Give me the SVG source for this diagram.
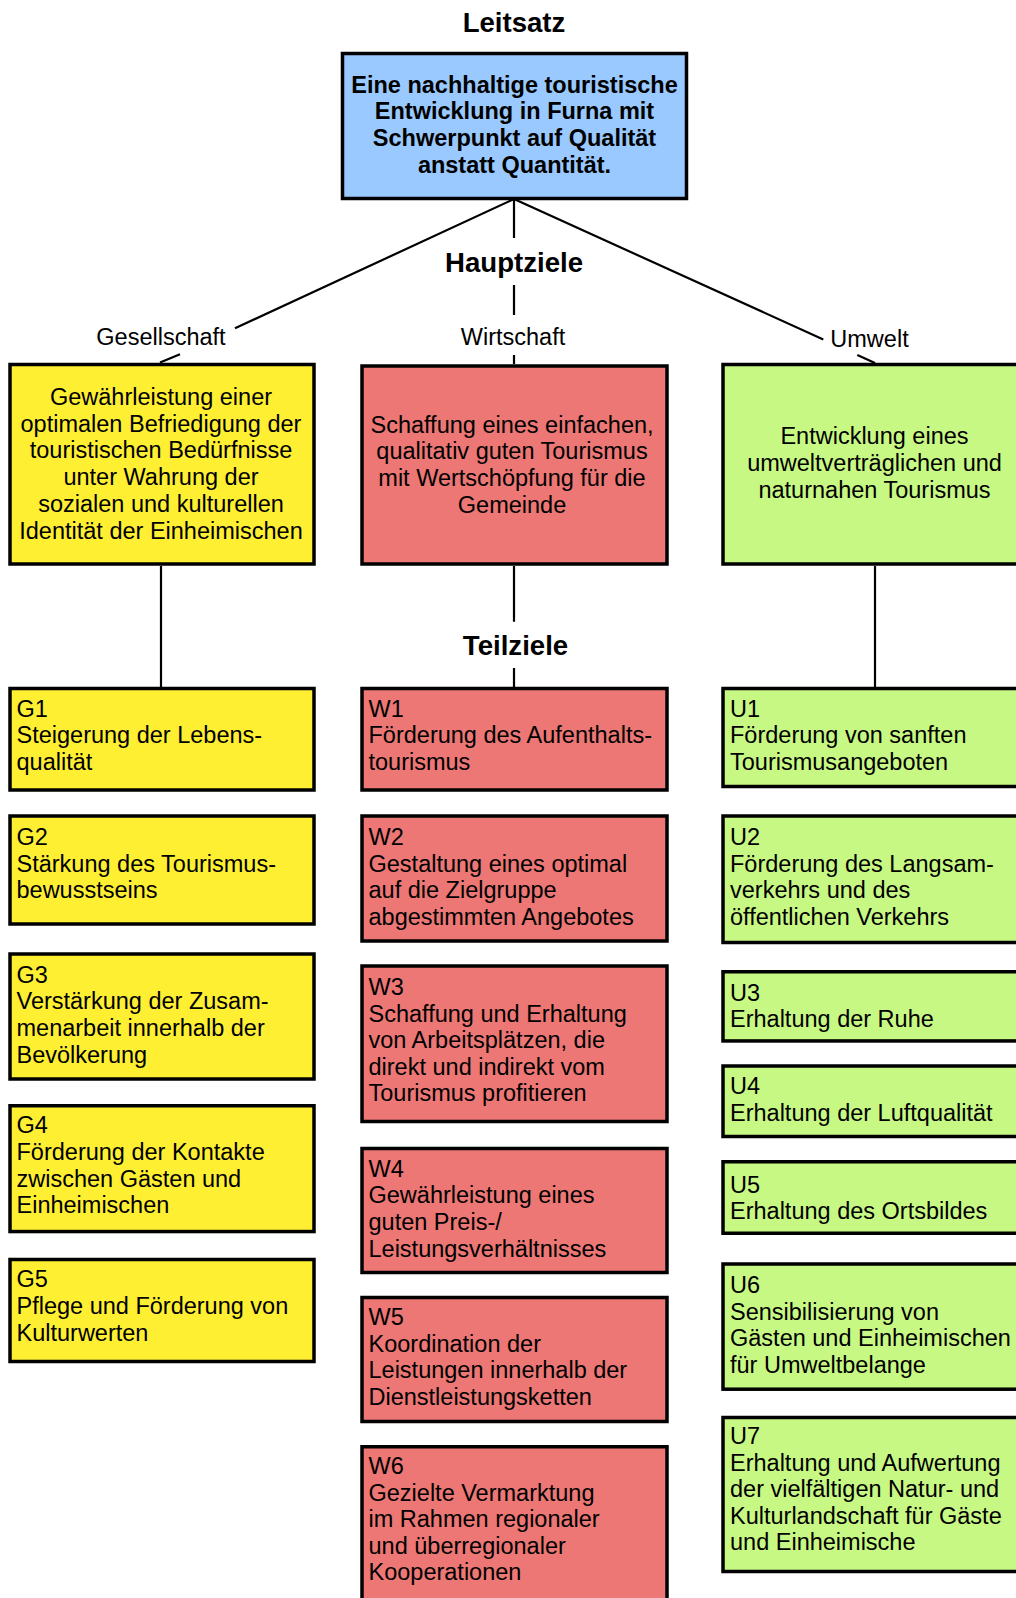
<svg xmlns="http://www.w3.org/2000/svg" width="1016" height="1598" viewBox="0 0 1016 1598">
<style>
text{font-family:"Liberation Sans",Arial,sans-serif;fill:#000}
.t{font-size:27.6px;font-weight:bold;text-anchor:middle}
.b{font-size:23.5px;font-weight:bold;text-anchor:middle}
.c{font-size:23.5px;text-anchor:middle}
.l{font-size:23.5px}
.box{stroke:#000;stroke-width:3.5}
.blue{fill:#99C9FF}
.y{fill:#FFEF33}
.r{fill:#EC7775}
.g{fill:#C8F884}
.ln{stroke:#000;stroke-width:2.2;fill:none}
</style>
<rect width="1016" height="1598" fill="#fff"/>

<g id="connectors">
<path class="ln" d="M514 199V238M514 285V315M514 355V364"/>
<path class="ln" d="M514 199L235 328.3M180 354.3L160 362.5"/>
<path class="ln" d="M514 199L823.3 339.5M857.3 355L875 363"/>
<path class="ln" d="M161 566V687M514 566V621.7M514 668V687M875 566V687"/>
</g>

<g id="titles">
<text class="t" x="514" y="31.7">Leitsatz</text>
<text class="t" x="514" y="271.7">Hauptziele</text>
<text class="t" x="515.5" y="655">Teilziele</text>
<text class="c" x="161" y="344.5">Gesellschaft</text>
<text class="c" x="513" y="345.3">Wirtschaft</text>
<text class="c" x="869.5" y="347">Umwelt</text>
</g>

<g id="leitsatz">
<rect class="box blue" x="342.5" y="53.5" width="344" height="145"/>
<text class="b" x="514.5" y="92.7"><tspan x="514.5">Eine nachhaltige touristische</tspan><tspan x="514.5" dy="26.6">Entwicklung in Furna mit</tspan><tspan x="514.5" dy="26.6">Schwerpunkt auf Qualität</tspan><tspan x="514.5" dy="26.6">anstatt Quantität.</tspan></text>
</g>

<g id="hz-gesellschaft">
<rect class="box y" x="10" y="364.5" width="304" height="199.5"/>
<text class="c" x="161" y="405"><tspan x="161">Gewährleistung einer</tspan><tspan x="161" dy="26.7">optimalen Befriedigung der</tspan><tspan x="161" dy="26.7">touristischen Bedürfnisse</tspan><tspan x="161" dy="26.7">unter Wahrung der</tspan><tspan x="161" dy="26.7">sozialen und kulturellen</tspan><tspan x="161" dy="26.7">Identität der Einheimischen</tspan></text>
</g>

<g id="hz-wirtschaft">
<rect class="box r" x="362" y="366" width="305" height="198"/>
<text class="c" x="512" y="432.5"><tspan x="512">Schaffung eines einfachen,</tspan><tspan x="512" dy="26.7">qualitativ guten Tourismus</tspan><tspan x="512" dy="26.7">mit Wertschöpfung für die</tspan><tspan x="512" dy="26.7">Gemeinde</tspan></text>
</g>

<g id="hz-umwelt">
<rect class="box g" x="723" y="364.5" width="304" height="199.5"/>
<text class="c" x="874.5" y="444.3"><tspan x="874.5">Entwicklung eines</tspan><tspan x="874.5" dy="26.7">umweltverträglichen und</tspan><tspan x="874.5" dy="26.7">naturnahen Tourismus</tspan></text>
</g>

<g id="G1">
<rect class="box y" x="10" y="688.5" width="304" height="101.5"/>
<text class="l" x="16.5" y="716.7"><tspan x="16.5">G1</tspan><tspan x="16.5" dy="26.6">Steigerung der Lebens-</tspan><tspan x="16.5" dy="26.6">qualität</tspan></text>
</g>
<g id="G2">
<rect class="box y" x="10" y="816" width="304" height="108"/>
<text class="l" x="16.5" y="845"><tspan x="16.5">G2</tspan><tspan x="16.5" dy="26.6">Stärkung des Tourismus-</tspan><tspan x="16.5" dy="26.6">bewusstseins</tspan></text>
</g>
<g id="G3">
<rect class="box y" x="10" y="954" width="304" height="125"/>
<text class="l" x="16.5" y="982.7"><tspan x="16.5">G3</tspan><tspan x="16.5" dy="26.6">Verstärkung der Zusam-</tspan><tspan x="16.5" dy="26.6">menarbeit innerhalb der</tspan><tspan x="16.5" dy="26.6">Bevölkerung</tspan></text>
</g>
<g id="G4">
<rect class="box y" x="10" y="1105.75" width="304" height="125.8"/>
<text class="l" x="16.5" y="1133.3"><tspan x="16.5">G4</tspan><tspan x="16.5" dy="26.6">Förderung der Kontakte</tspan><tspan x="16.5" dy="26.6">zwischen Gästen und</tspan><tspan x="16.5" dy="26.6">Einheimischen</tspan></text>
</g>
<g id="G5">
<rect class="box y" x="10" y="1259.5" width="304" height="102"/>
<text class="l" x="16.5" y="1287.3"><tspan x="16.5">G5</tspan><tspan x="16.5" dy="26.6">Pflege und Förderung von</tspan><tspan x="16.5" dy="26.6">Kulturwerten</tspan></text>
</g>

<g id="W1">
<rect class="box r" x="362" y="688.5" width="305" height="101.5"/>
<text class="l" x="368.5" y="716.7"><tspan x="368.5">W1</tspan><tspan x="368.5" dy="26.6">Förderung des Aufenthalts-</tspan><tspan x="368.5" dy="26.6">tourismus</tspan></text>
</g>
<g id="W2">
<rect class="box r" x="362" y="816" width="305" height="125"/>
<text class="l" x="368.5" y="845"><tspan x="368.5">W2</tspan><tspan x="368.5" dy="26.6">Gestaltung eines optimal</tspan><tspan x="368.5" dy="26.6">auf die Zielgruppe</tspan><tspan x="368.5" dy="26.6">abgestimmten Angebotes</tspan></text>
</g>
<g id="W3">
<rect class="box r" x="362" y="966" width="305" height="155.5"/>
<text class="l" x="368.5" y="995"><tspan x="368.5">W3</tspan><tspan x="368.5" dy="26.6">Schaffung und Erhaltung</tspan><tspan x="368.5" dy="26.6">von Arbeitsplätzen, die</tspan><tspan x="368.5" dy="26.6">direkt und indirekt vom</tspan><tspan x="368.5" dy="26.6">Tourismus profitieren</tspan></text>
</g>
<g id="W4">
<rect class="box r" x="362" y="1148.5" width="305" height="124"/>
<text class="l" x="368.5" y="1176.7"><tspan x="368.5">W4</tspan><tspan x="368.5" dy="26.6">Gewährleistung eines</tspan><tspan x="368.5" dy="26.6">guten Preis-/</tspan><tspan x="368.5" dy="26.6">Leistungsverhältnisses</tspan></text>
</g>
<g id="W5">
<rect class="box r" x="362" y="1297.5" width="305" height="124"/>
<text class="l" x="368.5" y="1325"><tspan x="368.5">W5</tspan><tspan x="368.5" dy="26.6">Koordination der</tspan><tspan x="368.5" dy="26.6">Leistungen innerhalb der</tspan><tspan x="368.5" dy="26.6">Dienstleistungsketten</tspan></text>
</g>
<g id="W6">
<rect class="box r" x="362" y="1446.75" width="305" height="200"/>
<text class="l" x="368.5" y="1474"><tspan x="368.5">W6</tspan><tspan x="368.5" dy="26.6">Gezielte Vermarktung</tspan><tspan x="368.5" dy="26.6">im Rahmen regionaler</tspan><tspan x="368.5" dy="26.6">und überregionaler</tspan><tspan x="368.5" dy="26.6">Kooperationen</tspan></text>
</g>

<g id="U1">
<rect class="box g" x="723" y="688.5" width="304" height="98"/>
<text class="l" x="730" y="716.7"><tspan x="730">U1</tspan><tspan x="730" dy="26.6">Förderung von sanften</tspan><tspan x="730" dy="26.6">Tourismusangeboten</tspan></text>
</g>
<g id="U2">
<rect class="box g" x="723" y="816" width="304" height="126.5"/>
<text class="l" x="730" y="845"><tspan x="730">U2</tspan><tspan x="730" dy="26.6">Förderung des Langsam-</tspan><tspan x="730" dy="26.6">verkehrs und des</tspan><tspan x="730" dy="26.6">öffentlichen Verkehrs</tspan></text>
</g>
<g id="U3">
<rect class="box g" x="723" y="971.75" width="304" height="69.2"/>
<text class="l" x="730" y="1000.7"><tspan x="730">U3</tspan><tspan x="730" dy="26.6">Erhaltung der Ruhe</tspan></text>
</g>
<g id="U4">
<rect class="box g" x="723" y="1066" width="304" height="70.5"/>
<text class="l" x="730" y="1094.3"><tspan x="730">U4</tspan><tspan x="730" dy="26.6">Erhaltung der Luftqualität</tspan></text>
</g>
<g id="U5">
<rect class="box g" x="723" y="1161.75" width="304" height="71.5"/>
<text class="l" x="730" y="1192.5"><tspan x="730">U5</tspan><tspan x="730" dy="26.6">Erhaltung des Ortsbildes</tspan></text>
</g>
<g id="U6">
<rect class="box g" x="723" y="1264" width="304" height="125.2"/>
<text class="l" x="730" y="1293"><tspan x="730">U6</tspan><tspan x="730" dy="26.6">Sensibilisierung von</tspan><tspan x="730" dy="26.6">Gästen und Einheimischen</tspan><tspan x="730" dy="26.6">für Umweltbelange</tspan></text>
</g>
<g id="U7">
<rect class="box g" x="723" y="1417.5" width="304" height="154"/>
<text class="l" x="730" y="1444"><tspan x="730">U7</tspan><tspan x="730" dy="26.6">Erhaltung und Aufwertung</tspan><tspan x="730" dy="26.6">der vielfältigen Natur- und</tspan><tspan x="730" dy="26.6">Kulturlandschaft für Gäste</tspan><tspan x="730" dy="26.6">und Einheimische</tspan></text>
</g>
</svg>
